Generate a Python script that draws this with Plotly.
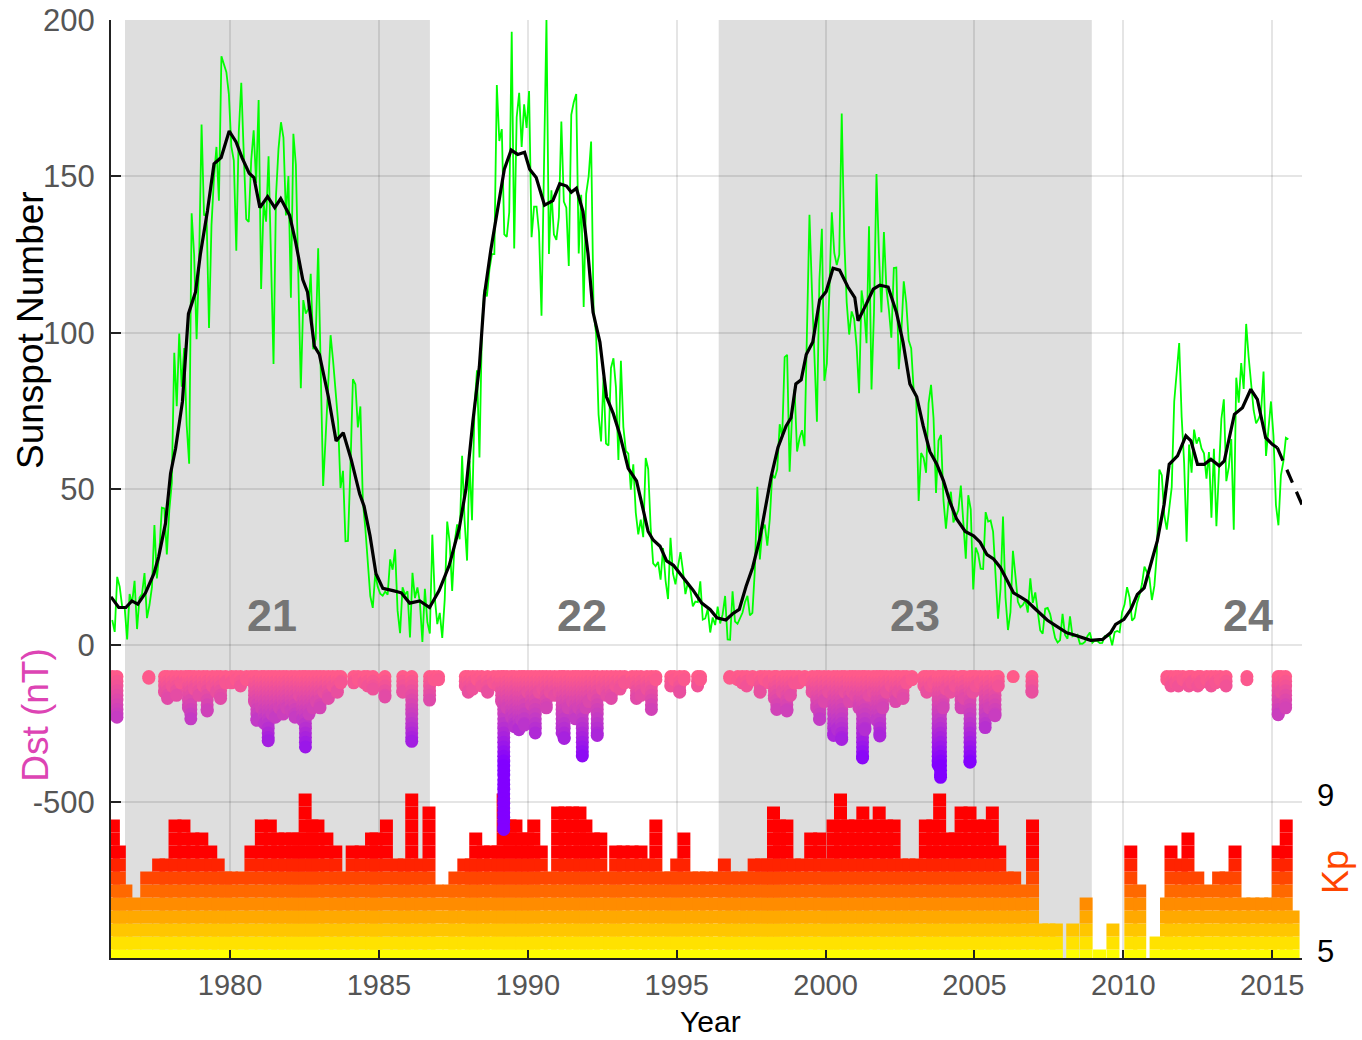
import numpy as np
import plotly.graph_objects as go

# ---------------- data ----------------
START_YEAR = 1976  # first month of the monthly series (January 1976)

SUNSPOT_MONTHLY = [
    8.1, 4.3, 21.9, 18.8, 12.4, 12.2, 1.9, 16.4, 13.5, 20.6, 5.2, 15.3,
    16.4, 23.1, 8.7, 12.9, 18.6, 38.5, 21.4, 30.1, 44.0, 43.8, 29.1, 43.2,
    51.9, 93.6, 76.5, 99.7, 82.7, 95.1, 70.4, 58.1, 138.2, 125.1, 97.9, 122.7,
    166.6, 137.5, 138.0, 101.5, 134.4, 149.5, 159.4, 142.2, 188.4, 186.2, 183.3, 176.3,
    159.6, 155.0, 126.2, 164.1, 179.9, 157.3, 136.3, 135.4, 155.0, 164.7, 147.9, 174.4,
    114.0, 141.3, 135.5, 156.4, 127.5, 90.0, 143.8, 158.7, 167.3, 162.4, 137.5, 150.1,
    111.2, 163.6, 153.8, 122.0, 82.2, 110.4, 106.1, 107.6, 118.8, 94.7, 98.1, 127.0,
    84.3, 51.0, 66.5, 80.7, 99.2, 91.1, 82.2, 71.8, 50.3, 55.8, 33.3, 33.4,
    57.0, 85.1, 83.5, 69.7, 76.4, 46.1, 37.4, 25.5, 15.7, 12.0, 22.8, 18.7,
    16.5, 15.9, 17.2, 16.2, 27.5, 24.2, 30.7, 11.1, 3.9, 18.6, 16.2, 17.3,
    2.5, 23.2, 15.1, 18.5, 13.7, 1.1, 18.1, 7.4, 3.8, 35.4, 15.2, 6.8,
    10.4, 2.4, 14.7, 39.6, 33.0, 17.4, 33.0, 38.7, 33.9, 60.6, 39.9, 27.1,
    59.0, 40.0, 76.2, 88.0, 60.1, 101.8, 113.8, 111.6, 120.1, 125.1, 125.1, 179.2,
    161.3, 165.1, 131.4, 130.6, 138.5, 196.2, 126.9, 168.9, 176.7, 159.4, 173.0, 165.5,
    177.3, 130.5, 140.3, 140.3, 132.2, 105.4, 149.4, 200.3, 125.2, 145.5, 131.4, 129.7,
    136.9, 167.5, 141.9, 140.0, 121.3, 169.7, 173.7, 176.3, 125.3, 144.1, 108.2, 144.4,
    150.0, 161.1, 106.7, 99.8, 73.8, 65.2, 85.7, 64.5, 63.9, 88.7, 91.8, 82.6,
    59.3, 91.0, 69.8, 62.2, 61.3, 49.8, 57.9, 42.4, 35.5, 40.2, 34.6, 59.9,
    56.4, 37.7, 26.2, 25.3, 26.7, 21.0, 31.1, 20.7, 14.8, 34.4, 22.9, 19.5,
    25.2, 29.8, 24.0, 16.4, 20.1, 17.8, 12.5, 14.0, 13.8, 20.5, 8.2, 8.6,
    11.6, 4.1, 8.9, 6.5, 12.4, 7.0, 9.9, 15.8, 1.9, 1.8, 17.3, 7.6,
    6.9, 8.8, 10.4, 13.8, 15.8, 9.6, 10.4, 24.3, 50.7, 27.5, 37.0, 38.6,
    31.9, 40.3, 54.8, 53.4, 56.3, 70.7, 66.6, 92.2, 92.9, 55.5, 74.0, 81.9,
    62.0, 66.3, 68.8, 63.7, 106.4, 137.7, 113.5, 93.7, 71.5, 116.7, 133.2, 84.6,
    90.1, 112.9, 138.5, 125.5, 121.6, 124.9, 170.1, 130.5, 109.7, 99.4, 106.8, 104.4,
    95.6, 80.6, 113.5, 107.7, 96.6, 134.0, 81.8, 106.4, 150.7, 125.5, 106.5, 132.2,
    114.1, 107.4, 98.4, 120.7, 120.8, 88.3, 99.6, 116.4, 109.6, 97.5, 95.0, 81.6,
    79.5, 46.2, 61.5, 60.0, 55.2, 77.4, 83.3, 72.7, 48.7, 65.5, 67.3, 46.5,
    37.3, 45.8, 49.1, 39.3, 41.5, 43.2, 51.1, 40.9, 27.7, 48.0, 43.5, 17.9,
    31.3, 29.2, 24.5, 24.4, 42.6, 39.6, 39.9, 36.4, 22.1, 8.5, 18.0, 41.2,
    15.3, 4.9, 10.6, 30.2, 22.3, 13.9, 12.2, 12.9, 14.4, 10.5, 21.4, 13.6,
    16.9, 10.6, 4.8, 3.7, 11.7, 12.0, 10.0, 6.2, 2.4, 0.9, 1.7, 10.1,
    3.3, 2.1, 9.3, 2.9, 3.2, 3.4, 0.5, 0.5, 1.1, 2.9, 4.1, 0.8,
    1.5, 1.4, 0.7, 0.8, 2.9, 2.9, 3.2, 0.0, 4.2, 4.6, 4.2, 10.6,
    13.1, 18.6, 15.4, 7.9, 8.8, 13.5, 16.1, 19.6, 25.2, 23.5, 21.6, 14.5,
    19.0, 29.4, 56.2, 54.4, 41.6, 37.0, 43.9, 50.6, 78.0, 88.0, 96.7, 73.0,
    58.3, 33.1, 64.2, 55.2, 69.0, 64.5, 66.5, 63.0, 61.4, 53.3, 61.8, 40.8,
    62.9, 38.1, 57.9, 72.4, 78.7, 52.5, 57.0, 66.0, 37.0, 85.6, 77.6, 90.3,
    82.0, 102.8, 92.2, 84.7, 75.2, 71.0, 72.4, 74.6, 87.6, 60.6, 70.1, 78.0,
    67.0, 44.8, 38.4, 54.4, 58.8, 66.4, 65.9,
]

SMOOTH_YEAR = [
    1976.0, 1976.26, 1976.5, 1976.7, 1976.9, 1977.16, 1977.44, 1977.6, 1977.83, 1978.0,
    1978.17, 1978.4, 1978.6, 1978.84, 1979.0, 1979.24, 1979.46, 1979.7, 1979.97, 1980.2,
    1980.4, 1980.64, 1980.8, 1981.0, 1981.26, 1981.5, 1981.7, 1982.0, 1982.2, 1982.44,
    1982.6, 1982.83, 1983.0, 1983.3, 1983.56, 1983.8, 1984.07, 1984.35, 1984.5, 1984.7,
    1984.9, 1985.13, 1985.47, 1985.75, 1986.03, 1986.37, 1986.7, 1987.02, 1987.36, 1987.7,
    1987.92, 1988.15, 1988.37, 1988.54, 1988.76, 1988.99, 1989.21, 1989.44, 1989.66, 1989.89,
    1990.06, 1990.28, 1990.56, 1990.84, 1991.07, 1991.3, 1991.46, 1991.63, 1991.85, 1992.02,
    1992.19, 1992.42, 1992.64, 1992.87, 1993.09, 1993.37, 1993.65, 1993.88, 1994.04, 1994.21,
    1994.44, 1994.66, 1994.89, 1995.22, 1995.56, 1995.84, 1996.12, 1996.35, 1996.65, 1996.88,
    1997.1, 1997.33, 1997.55, 1997.78, 1998.0, 1998.17, 1998.4, 1998.67, 1998.84, 1999.0,
    1999.18, 1999.35, 1999.57, 1999.8, 2000.02, 2000.25, 2000.47, 2000.75, 2000.98, 2001.09,
    2001.37, 2001.6, 2001.82, 2002.1, 2002.38, 2002.6, 2002.83, 2003.06, 2003.28, 2003.5,
    2003.73, 2003.96, 2004.18, 2004.4, 2004.69, 2004.97, 2005.19, 2005.42, 2005.64, 2005.87,
    2006.09, 2006.31, 2006.54, 2006.76, 2006.99, 2007.2, 2007.44, 2007.66, 2007.89, 2008.1,
    2008.33, 2008.56, 2008.9, 2009.3, 2009.57, 2009.74, 2010.02, 2010.25, 2010.47, 2010.7,
    2010.92, 2011.14, 2011.37, 2011.54, 2011.82, 2012.1, 2012.27, 2012.49, 2012.72, 2012.94,
    2013.22, 2013.39, 2013.73, 2014.0, 2014.28, 2014.5, 2014.78, 2015.0, 2015.17,
]
SMOOTH_SSN = [
    15.5, 12.1, 12.1, 14.2, 13.2, 16.8, 22.9, 28.3, 39.0, 55.0,
    63.0, 78.0, 106.0, 113.0, 125.0, 139.0, 154.0, 156.0, 164.5, 161.0,
    156.0, 151.0, 149.6, 140.0, 143.5, 140.0, 142.9, 137.5, 129.0, 117.0,
    113.0, 95.7, 93.0, 79.5, 65.4, 68.0, 59.3, 48.5, 44.5, 35.0,
    22.9, 18.2, 17.5, 16.8, 13.5, 14.2, 12.1, 17.5, 25.6, 37.7,
    49.9, 71.4, 89.0, 112.0, 126.7, 140.2, 152.3, 158.4, 157.0, 157.7,
    152.3, 149.6, 140.8, 142.2, 147.6, 146.9, 144.9, 146.2, 138.8, 125.3,
    106.5, 97.0, 79.5, 74.1, 67.4, 56.6, 52.6, 43.1, 36.4, 33.7,
    31.7, 27.0, 25.6, 21.6, 17.5, 13.5, 11.5, 8.8, 8.1, 10.1,
    11.5, 18.9, 24.9, 33.7, 44.5, 53.9, 63.3, 70.1, 72.8, 83.6,
    84.9, 93.0, 97.0, 110.5, 113.2, 120.6, 120.0, 114.6, 111.2, 103.8,
    109.2, 113.9, 115.2, 114.6, 106.5, 97.0, 83.6, 79.5, 70.1, 62.0,
    58.0, 52.6, 45.8, 40.4, 36.4, 35.0, 33.0, 29.0, 27.6, 24.9,
    20.9, 16.8, 15.5, 14.2, 12.1, 10.1, 8.1, 6.7, 5.4, 4.0,
    3.4, 2.7, 1.6, 1.9, 4.0, 6.7, 8.3, 11.5, 16.3, 18.4,
    25.9, 33.4, 45.1, 57.9, 60.6, 67.0, 65.4, 57.9, 57.9, 59.5,
    57.4, 59.0, 73.9, 76.0, 81.9, 78.7, 66.4, 64.3, 63.2,
]

PRED_YEAR = [2015.17, 2015.56, 2016.0]
PRED_SSN = [63.2, 54.7, 45.0]

SHADE_START = [1976.47, 1996.41]
SHADE_END = [1986.71, 2008.94]

CYCLE_NAMES = ["21", "22", "23", "24"]
CYCLE_LABEL_YEAR = [1981.4, 1991.83, 2003.0, 2014.17]
CYCLE_LABEL_SSN = [9.6, 9.6, 9.6, 9.6]

# geomagnetic storms: time and minimum Dst (nT)
DST_YEAR = [
    1976.05, 1976.2, 1977.27, 1977.8, 1977.9, 1978.05, 1978.2, 1978.35, 1978.5, 1978.6,
    1978.68, 1978.8, 1978.95, 1979.1, 1979.23, 1979.4, 1979.55, 1979.68, 1979.85, 1980.05,
    1980.2, 1980.35, 1980.55, 1980.7, 1980.82, 1980.9, 1981.05, 1981.15, 1981.28, 1981.4,
    1981.52, 1981.65, 1981.78, 1981.9, 1982.05, 1982.18, 1982.32, 1982.44, 1982.53, 1982.65,
    1982.78, 1982.9, 1983.02, 1983.15, 1983.3, 1983.45, 1983.6, 1983.72, 1984.15, 1984.3,
    1984.5, 1984.62, 1984.8, 1985.2, 1985.8, 1986.1, 1986.7, 1986.85, 1987.0, 1987.9,
    1988.0, 1988.15, 1988.3, 1988.45, 1988.65, 1988.85, 1989.0, 1989.12, 1989.19, 1989.3,
    1989.45, 1989.55, 1989.7, 1989.8, 1989.88, 1990.0, 1990.12, 1990.25, 1990.38, 1990.5,
    1990.62, 1990.75, 1990.9, 1991.05, 1991.15, 1991.22, 1991.35, 1991.5, 1991.6, 1991.7,
    1991.83, 1991.95, 1992.05, 1992.2, 1992.33, 1992.5, 1992.65, 1992.8, 1992.95, 1993.1,
    1993.25, 1993.5, 1993.65, 1993.8, 1994.0, 1994.15, 1994.3, 1994.8, 1994.92, 1995.1,
    1995.25, 1995.7, 1995.8, 1996.78, 1997.05, 1997.2, 1997.35, 1997.55, 1997.8, 1997.95,
    1998.1, 1998.28, 1998.36, 1998.55, 1998.7, 1998.82, 1998.95, 1999.1, 1999.3, 1999.55,
    1999.7, 1999.8, 1999.95, 2000.1, 2000.27, 2000.4, 2000.54, 2000.65, 2000.8, 2000.9,
    2001.0, 2001.12, 2001.24, 2001.32, 2001.45, 2001.6, 2001.72, 2001.82, 2001.92, 2002.05,
    2002.2, 2002.35, 2002.45, 2002.6, 2002.72, 2002.9, 2003.3, 2003.4, 2003.52, 2003.62,
    2003.78, 2003.86, 2003.95, 2004.05, 2004.2, 2004.35, 2004.55, 2004.65, 2004.85, 2004.95,
    2005.05, 2005.2, 2005.36, 2005.5, 2005.69, 2005.8, 2006.3, 2006.93, 2011.46, 2011.6,
    2011.75, 2011.85, 2012.0, 2012.2, 2012.3, 2012.5, 2012.6, 2012.8, 2012.95, 2013.1,
    2013.25, 2013.45, 2014.15, 2015.2, 2015.3, 2015.45,
]
DST_MIN = [
    -130, -230, -105, -150, -170, -130, -160, -120, -120, -200,
    -235, -140, -160, -130, -210, -130, -150, -170, -120, -120,
    -110, -130, -110, -110, -180, -240, -200, -250, -305, -220,
    -230, -200, -220, -200, -210, -230, -160, -240, -325, -220,
    -200, -180, -200, -150, -170, -130, -150, -120, -120, -110,
    -120, -130, -140, -165, -150, -307, -175, -110, -110, -130,
    -150, -140, -110, -130, -150, -120, -130, -180, -589, -200,
    -230, -260, -270, -240, -255, -150, -190, -280, -150, -140,
    -200, -150, -160, -150, -280, -298, -200, -180, -235, -200,
    -354, -200, -180, -160, -288, -140, -160, -170, -130, -140,
    -120, -120, -170, -160, -140, -205, -110, -130, -110, -150,
    -110, -130, -110, -105, -110, -120, -130, -110, -150, -110,
    -120, -170, -205, -150, -210, -160, -120, -120, -110, -150,
    -200, -237, -180, -150, -288, -270, -301, -150, -180, -150,
    -160, -200, -360, -270, -160, -150, -240, -290, -200, -150,
    -130, -180, -150, -170, -120, -110, -130, -150, -130, -120,
    -383, -422, -200, -140, -150, -130, -200, -170, -374, -150,
    -130, -120, -263, -200, -225, -130, -100, -150, -110, -130,
    -120, -130, -110, -130, -120, -130, -120, -110, -130, -120,
    -110, -130, -110, -222, -150, -200,
]

# intervals of strong geomagnetic activity: time and maximum Kp
KP_YEAR = [
    1976.08, 1976.28, 1976.5, 1976.8, 1977.2, 1977.6, 1977.85, 1978.15, 1978.45, 1978.75,
    1979.05, 1979.35, 1979.6, 1979.85, 1980.05, 1980.4, 1980.7, 1981.05, 1981.35, 1981.6,
    1981.85, 1982.1, 1982.3, 1982.52, 1982.75, 1982.95, 1983.25, 1983.55, 1983.8, 1984.1,
    1984.4, 1984.75, 1984.9, 1985.25, 1985.6, 1985.85, 1986.1, 1986.4, 1986.68, 1986.95,
    1987.35, 1987.55, 1987.85, 1988.1, 1988.25, 1988.5, 1988.75, 1989.0, 1989.17, 1989.4,
    1989.6, 1989.8, 1990.0, 1990.2, 1990.45, 1990.75, 1991.0, 1991.25, 1991.5, 1991.75,
    1991.95, 1992.2, 1992.45, 1992.75, 1992.95, 1993.2, 1993.5, 1993.8, 1994.05, 1994.3,
    1994.55, 1994.8, 1995.0, 1995.24, 1995.5, 1995.75, 1996.0, 1996.3, 1996.6, 1996.85,
    1997.1, 1997.35, 1997.6, 1997.85, 1998.05, 1998.25, 1998.45, 1998.7, 1998.95, 1999.2,
    1999.5, 1999.8, 2000.05, 2000.25, 2000.5, 2000.75, 2001.0, 2001.25, 2001.5, 2001.8,
    2002.05, 2002.3, 2002.55, 2002.8, 2003.05, 2003.35, 2003.6, 2003.83, 2004.1, 2004.35,
    2004.55, 2004.85, 2005.1, 2005.35, 2005.6, 2005.85, 2006.1, 2006.35, 2006.6, 2006.95,
    2007.25, 2007.5, 2007.75, 2008.3, 2008.75, 2009.2, 2009.65, 2010.25, 2010.55, 2011.1,
    2011.45, 2011.6, 2011.95, 2012.17, 2012.5, 2012.8, 2013.2, 2013.45, 2013.75, 2014.05,
    2014.35, 2014.65, 2014.95, 2015.2, 2015.47, 2015.7,
]
KP_MAX = [
    8.33, 7.67, 6.67, 6.33, 7.0, 7.33, 7.33, 8.33, 8.33, 8.0,
    8.0, 7.67, 7.33, 7.0, 7.0, 7.0, 7.67, 8.33, 8.33, 8.0,
    8.0, 8.0, 8.0, 9.0, 8.33, 8.33, 8.0, 7.67, 7.0, 7.67,
    7.67, 8.0, 8.0, 8.33, 7.33, 7.33, 9.0, 7.33, 8.67, 6.67,
    6.67, 7.0, 7.33, 7.33, 8.0, 7.67, 7.67, 7.67, 9.0, 8.33,
    8.33, 8.0, 8.0, 8.33, 7.67, 7.0, 8.67, 8.67, 8.67, 8.67,
    8.33, 8.0, 8.0, 7.0, 7.67, 7.67, 7.67, 7.67, 7.33, 8.33,
    7.0, 7.0, 7.33, 8.0, 7.0, 7.0, 7.0, 7.0, 7.33, 7.0,
    7.0, 7.0, 7.33, 7.33, 7.33, 8.67, 8.33, 8.33, 7.33, 7.33,
    8.0, 8.0, 7.33, 8.33, 9.0, 8.33, 8.33, 8.67, 8.33, 8.67,
    8.33, 8.33, 7.33, 7.33, 7.33, 8.33, 8.33, 9.0, 8.0, 8.0,
    8.67, 8.67, 8.33, 8.33, 8.67, 7.67, 7.0, 7.0, 6.67, 8.33,
    5.67, 5.67, 5.67, 5.67, 6.33, 5.0, 5.67, 7.67, 6.67, 5.33,
    6.33, 7.67, 7.33, 8.0, 7.0, 6.67, 7.0, 7.0, 7.67, 6.33,
    6.33, 6.33, 6.33, 7.67, 8.33, 6.0,
]

# ---------------- figure ----------------
TICK_FONT = "Liberation Sans, Arial, Helvetica, sans-serif"
months = np.arange(len(SUNSPOT_MONTHLY))
month_time = START_YEAR + (months + 0.5) / 12.0

# expand storms into the levels they passed through (dots stacked down to the minimum)
dst_x, dst_v = [], []
for t, dmin in zip(DST_YEAR, DST_MIN):
    lv = list(np.arange(-100, dmin, -15.0)) + [dmin]
    dst_x += [t] * len(lv)
    dst_v += lv

kp_x, kp_v = [], []
for t, kmax in zip(KP_YEAR, KP_MAX):
    n = int(round((kmax - 5.0) * 3)) + 1
    for i in range(n):
        kp_x.append(t)
        kp_v.append(5.0 + i / 3.0)
order = np.argsort(kp_v, kind="stable")
kp_x = list(np.array(kp_x)[order])
kp_v = list(np.array(kp_v)[order])

fig = go.Figure()

fig.add_trace(go.Scatter(
    x=kp_x, y=kp_v, mode="markers", yaxis="y2", hoverinfo="skip",
    marker=dict(symbol="square", size=13, color=kp_v, cmin=5.0, cmax=7.67,
                colorscale=[[0, "#ffff00"], [0.5, "#ff8c00"], [1, "#ff0000"]],
                line=dict(width=0)),
    showlegend=False,
))

fig.add_trace(go.Scatter(
    x=dst_x, y=dst_v, mode="markers", yaxis="y3", hoverinfo="skip",
    marker=dict(symbol="circle", size=13, color=dst_v, cmin=-380, cmax=-100,
                colorscale=[[0, "#8200ff"], [0.5, "#c23ac6"], [1, "#ff5a8a"]],
                line=dict(width=0)),
    showlegend=False,
))

fig.add_trace(go.Scatter(
    x=month_time, y=SUNSPOT_MONTHLY, mode="lines",
    line=dict(color="#00ff00", width=1.8), showlegend=False,
))
fig.add_trace(go.Scatter(
    x=SMOOTH_YEAR, y=SMOOTH_SSN, mode="lines",
    line=dict(color="#000000", width=3.2), showlegend=False,
))
fig.add_trace(go.Scatter(
    x=PRED_YEAR, y=PRED_SSN, mode="lines",
    line=dict(color="#000000", width=3.2, dash="14px,10px"), showlegend=False,
))

shapes = []
for s, e in zip(SHADE_START, SHADE_END):
    shapes.append(dict(type="rect", xref="x", yref="paper", x0=s, x1=e, y0=0, y1=1,
                       fillcolor="#dedede", line=dict(width=0), layer="below"))

annotations = []
for name, cx, cy in zip(CYCLE_NAMES, CYCLE_LABEL_YEAR, CYCLE_LABEL_SSN):
    annotations.append(dict(x=cx, y=cy, xref="x", yref="y", text="<b>%s</b>" % name,
                            xanchor="center", yanchor="middle",
                            showarrow=False, font=dict(family=TICK_FONT, size=45, color="#757575")))
annotations += [
    dict(x=-0.068, y=0.6695, xref="paper", yref="paper", text="Sunspot Number", textangle=-90,
         xanchor="center", yanchor="middle",
         showarrow=False, font=dict(family=TICK_FONT, size=37, color="#000000")),
    dict(x=-0.064, y=0.259, xref="paper", yref="paper", text="Dst (nT)", textangle=-90,
         xanchor="center", yanchor="middle",
         showarrow=False, font=dict(family=TICK_FONT, size=37, color="#dd44b4")),
    dict(x=1.028, y=0.092, xref="paper", yref="paper", text="Kp", textangle=-90,
         xanchor="center", yanchor="middle",
         showarrow=False, font=dict(family=TICK_FONT, size=36, color="#ff4500")),
    dict(x=0.503, y=-0.0672, xref="paper", yref="paper", text="Year",
         xanchor="center", yanchor="middle",
         showarrow=False, font=dict(family=TICK_FONT, size=30, color="#000000")),
]

grid_col = "rgba(0,0,0,0.10)"
fig.update_layout(
    width=1362, height=1040,
    margin=dict(l=111, r=60, t=20, b=82, autoexpand=False),
    paper_bgcolor="white", plot_bgcolor="rgba(0,0,0,0)",
    shapes=shapes, annotations=annotations,
    xaxis=dict(range=[1976, 2016], tickvals=[1980, 1985, 1990, 1995, 2000, 2005, 2010, 2015],
               showgrid=True, gridcolor=grid_col, gridwidth=2, zeroline=False,
               showline=True, linecolor="#222222", linewidth=2, automargin=False,
               ticks="inside", ticklen=8, tickwidth=2, tickcolor="#222222",
               tickfont=dict(family=TICK_FONT, size=29, color="#555555"),
               ticklabelstandoff=0),
    yaxis=dict(range=[-100, 200], tickvals=[-50, 0, 50, 100, 150, 200],
               ticktext=["-500", "0", "50", "100", "150", "200"],
               showgrid=True, gridcolor=grid_col, gridwidth=2, zeroline=False,
               showline=True, linecolor="#222222", linewidth=2, automargin=False,
               ticks="inside", ticklen=10, tickwidth=2, tickcolor="#222222",
               tickfont=dict(family=TICK_FONT, size=31, color="#555555"),
               ticklabelstandoff=8),
    yaxis2=dict(overlaying="y", side="right", range=[4.949, 29.0], tickvals=[5, 9],
                showgrid=False, zeroline=False, showline=False, ticks="", automargin=False,
                tickfont=dict(family=TICK_FONT, size=31, color="#000000"),
                ticklabelshift=-5, ticklabelstandoff=14),
    yaxis3=dict(overlaying="y", range=[-1000, 2000], visible=False, automargin=False),
)

fig.write_html("out.html")
